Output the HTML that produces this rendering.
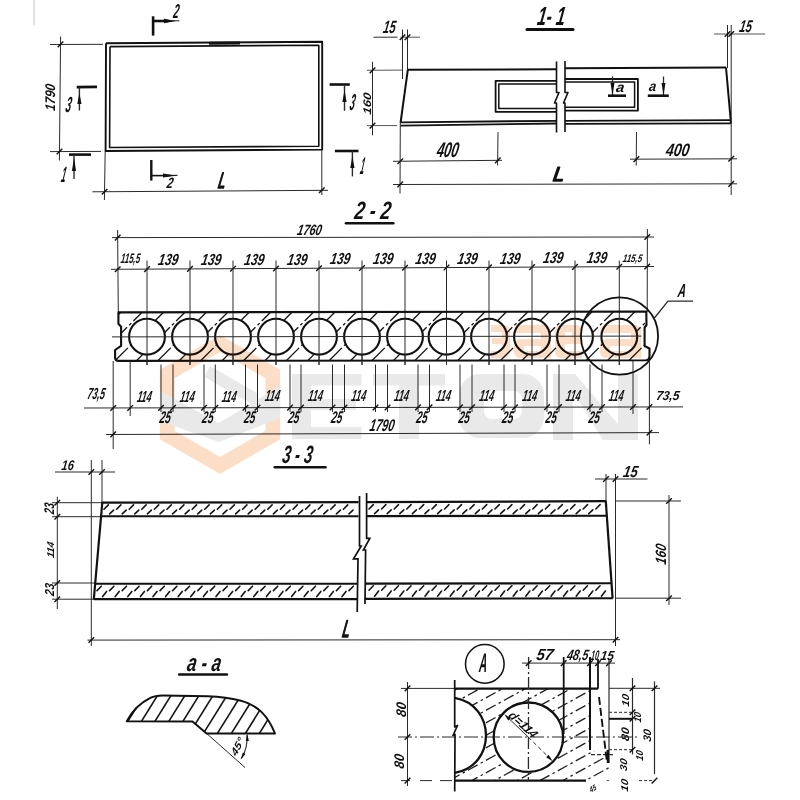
<!DOCTYPE html>
<html><head><meta charset="utf-8"><style>
html,body{margin:0;padding:0;background:#fff;}
body{width:800px;height:800px;overflow:hidden;}
svg{display:block;}
text{font-family:"Liberation Sans",sans-serif;font-style:italic;font-weight:bold;font-size:100px;}
text.r{font-weight:normal;stroke:#111;stroke-width:7px;stroke-linejoin:round;}
</style></head><body>
<svg width="800" height="800" viewBox="0 0 800 800">
<rect width="800" height="800" fill="#fff"/>
<line x1="34" y1="0" x2="34" y2="25" stroke="#c8c8c8" stroke-width="1" stroke-linecap="butt"/>
<polyline points="106,43.2 322.2,41.8 322.2,149.6 105.6,151 106,43.2" fill="none" stroke="#111" stroke-width="1.9" stroke-linejoin="round"/>
<polyline points="110,46.6 318.8,45.2 318.8,146.2 109.6,147.5 110,46.6" fill="none" stroke="#111" stroke-width="1.6" stroke-linejoin="round"/>
<line x1="209" y1="43.3" x2="240" y2="43.1" stroke="#111" stroke-width="3" stroke-linecap="butt"/>
<line x1="153.1" y1="16.3" x2="153.1" y2="35.6" stroke="#111" stroke-width="2.6" stroke-linecap="butt"/>
<line x1="153.1" y1="21" x2="168" y2="21" stroke="#111" stroke-width="2.6" stroke-linecap="butt"/>
<line x1="166" y1="21" x2="179.4" y2="20.8" stroke="#2a2a2a" stroke-width="1.1" stroke-linecap="butt"/>
<polygon points="176,21 164,23.2 164,18.8" fill="#111"/>
<text transform="matrix(0.1 0 -0.03 0.2 172.7 18)" fill="#111">2</text>
<line x1="60.6" y1="36.5" x2="59.4" y2="160.5" stroke="#2a2a2a" stroke-width="1" stroke-linecap="butt"/>
<line x1="50" y1="44.5" x2="103" y2="44.3" stroke="#2a2a2a" stroke-width="1" stroke-linecap="butt"/>
<line x1="50" y1="151.6" x2="101" y2="151.4" stroke="#2a2a2a" stroke-width="1" stroke-linecap="butt"/>
<line x1="57.7" y1="47.2" x2="63.3" y2="41.6" stroke="#111" stroke-width="1.4"/>
<line x1="56.7" y1="154.3" x2="62.3" y2="148.7" stroke="#111" stroke-width="1.4"/>
<text transform="translate(50.5 96.7) rotate(-90) matrix(0.12 0 -0.02 0.14 -14.48 4.76)" fill="#111">1790</text>
<line x1="76.7" y1="87.1" x2="97" y2="86.9" stroke="#111" stroke-width="2.6" stroke-linecap="butt"/>
<line x1="79.4" y1="87.1" x2="79.4" y2="110.5" stroke="#2a2a2a" stroke-width="1.4" stroke-linecap="butt"/>
<polygon points="79.4,93 81.5,104 77.3,104" fill="#111"/>
<text transform="matrix(0.1 0 -0.04 0.22 64.84 111.78)" fill="#111">3</text>
<line x1="69" y1="154.6" x2="91" y2="154.6" stroke="#111" stroke-width="2.6" stroke-linecap="butt"/>
<line x1="74" y1="154.6" x2="74" y2="179" stroke="#2a2a2a" stroke-width="1.4" stroke-linecap="butt"/>
<polygon points="74,158 76.1,171 71.9,171" fill="#111"/>
<text transform="matrix(0.08 0 -0.04 0.22 60.5 182.4)" fill="#111">1</text>
<line x1="151.3" y1="160" x2="151.3" y2="180.6" stroke="#111" stroke-width="2.4" stroke-linecap="butt"/>
<line x1="151.3" y1="175.6" x2="170" y2="175.6" stroke="#111" stroke-width="1.6" stroke-linecap="butt"/>
<line x1="168" y1="175.6" x2="177.5" y2="175.4" stroke="#2a2a2a" stroke-width="1.1" stroke-linecap="butt"/>
<polygon points="176,175.5 163.02,177.6 162.98,173.6" fill="#111"/>
<text transform="matrix(0.11 0 -0.03 0.15 166.23 187.5)" fill="#111">2</text>
<line x1="92.4" y1="191.8" x2="328" y2="190.3" stroke="#2a2a2a" stroke-width="1" stroke-linecap="butt"/>
<line x1="105.2" y1="151" x2="104.4" y2="200" stroke="#2a2a2a" stroke-width="1" stroke-linecap="butt"/>
<line x1="321.8" y1="150" x2="321.8" y2="195" stroke="#2a2a2a" stroke-width="1" stroke-linecap="butt"/>
<line x1="101.8" y1="194.5" x2="107.4" y2="188.9" stroke="#111" stroke-width="1.4"/>
<line x1="319" y1="193.1" x2="324.6" y2="187.5" stroke="#111" stroke-width="1.4"/>
<text transform="matrix(0.13 0 -0.04 0.22 217.5 187.5)" fill="#111" class="r">L</text>
<line x1="329.6" y1="84.5" x2="349.8" y2="84.5" stroke="#111" stroke-width="2.6" stroke-linecap="butt"/>
<line x1="344.5" y1="84.5" x2="344.5" y2="110.8" stroke="#2a2a2a" stroke-width="1.4" stroke-linecap="butt"/>
<polygon points="344.5,90 346.6,102 342.4,102" fill="#111"/>
<text transform="matrix(0.09 0 -0.04 0.23 348.94 109.77)" fill="#111">3</text>
<line x1="334.9" y1="151" x2="358.5" y2="151" stroke="#111" stroke-width="2.6" stroke-linecap="butt"/>
<line x1="352.4" y1="151" x2="352.4" y2="176.4" stroke="#2a2a2a" stroke-width="1.4" stroke-linecap="butt"/>
<polygon points="352.4,156 354.5,168 350.3,168" fill="#111"/>
<text transform="matrix(0.07 0 -0.04 0.24 359.4 173.8)" fill="#111">1</text>
<line x1="372.5" y1="61.8" x2="372.5" y2="135.3" stroke="#2a2a2a" stroke-width="1" stroke-linecap="butt"/>
<line x1="367" y1="70.3" x2="402" y2="70.1" stroke="#555" stroke-width="1" stroke-linecap="butt"/>
<line x1="367" y1="125.6" x2="397" y2="125.6" stroke="#555" stroke-width="1" stroke-linecap="butt"/>
<line x1="369.7" y1="73.2" x2="375.3" y2="67.6" stroke="#111" stroke-width="1.4"/>
<line x1="369.7" y1="128.4" x2="375.3" y2="122.8" stroke="#111" stroke-width="1.4"/>
<text transform="translate(366.8 103.7) rotate(-90) matrix(0.13 0 -0.02 0.11 -11.28 3.84)" fill="#111">160</text>
<line x1="373.5" y1="37.2" x2="397.5" y2="37.2" stroke="#2a2a2a" stroke-width="1" stroke-linecap="butt"/>
<line x1="400.5" y1="37.2" x2="420" y2="37.2" stroke="#555" stroke-width="1" stroke-linecap="butt"/>
<line x1="402.5" y1="29.5" x2="402.5" y2="79" stroke="#2a2a2a" stroke-width="1" stroke-linecap="butt"/>
<line x1="407.5" y1="29.5" x2="407.5" y2="70" stroke="#2a2a2a" stroke-width="1" stroke-linecap="butt"/>
<line x1="399.7" y1="40" x2="405.3" y2="34.4" stroke="#111" stroke-width="1.4"/>
<line x1="404.7" y1="40" x2="410.3" y2="34.4" stroke="#111" stroke-width="1.4"/>
<text transform="matrix(0.11 0 -0.03 0.18 382.53 33.32)" fill="#111">15</text>
<text transform="matrix(0.16 0 -0.04 0.26 536.5 24.8)" fill="#111">1- 1</text>
<line x1="527" y1="29.6" x2="573" y2="29.6" stroke="#111" stroke-width="3" stroke-linecap="round"/>
<line x1="407.5" y1="69.8" x2="556.5" y2="69.2" stroke="#111" stroke-width="2" stroke-linecap="butt"/>
<line x1="565" y1="68.3" x2="726" y2="67.5" stroke="#111" stroke-width="2" stroke-linecap="butt"/>
<line x1="407.8" y1="69.8" x2="400.6" y2="122.5" stroke="#111" stroke-width="2" stroke-linecap="butt"/>
<line x1="726" y1="67.5" x2="731" y2="123.3" stroke="#111" stroke-width="2" stroke-linecap="butt"/>
<line x1="400.6" y1="122.3" x2="556.5" y2="120.8" stroke="#111" stroke-width="1.8" stroke-linecap="butt"/>
<line x1="400.6" y1="125.6" x2="556.5" y2="123.5" stroke="#111" stroke-width="1.8" stroke-linecap="butt"/>
<line x1="565" y1="120.8" x2="731" y2="120.2" stroke="#111" stroke-width="1.8" stroke-linecap="butt"/>
<line x1="565" y1="123.8" x2="731" y2="123.4" stroke="#111" stroke-width="1.8" stroke-linecap="butt"/>
<polyline points="556.5,80.8 495.6,80.8 495.6,111.8 556.5,111.8" fill="none" stroke="#111" stroke-width="1.8" stroke-linejoin="round"/>
<polyline points="556.5,84 498.8,84 498.8,108.6 556.5,108.6" fill="none" stroke="#111" stroke-width="1.5" stroke-linejoin="round"/>
<polyline points="565,79 637.9,79 637.9,110.6 565,110.6" fill="none" stroke="#111" stroke-width="1.8" stroke-linejoin="round"/>
<polyline points="565,82 634.6,82 634.6,107.3 565,107.3" fill="none" stroke="#111" stroke-width="1.5" stroke-linejoin="round"/>
<rect x="557.5" y="60" width="6.5" height="74" fill="#fff"/>
<polyline points="556.5,61.5 556.5,92.5 559,92.5 554.5,103 556.5,103 556.5,132.5" fill="none" stroke="#111" stroke-width="1.6" stroke-linejoin="round"/>
<polyline points="565,61 565,92.5 568,92.5 563.5,103 565,103 565,132" fill="none" stroke="#111" stroke-width="1.6" stroke-linejoin="round"/>
<line x1="612.5" y1="76.5" x2="612.5" y2="95.5" stroke="#2a2a2a" stroke-width="1.3" stroke-linecap="butt"/>
<polygon points="612.5,95 610.5,83 614.5,83" fill="#111"/>
<line x1="608" y1="95.7" x2="626" y2="95.7" stroke="#111" stroke-width="2.6" stroke-linecap="butt"/>
<text transform="matrix(0.15 0 -0.02 0.14 615.52 92.16)" fill="#111">a</text>
<line x1="663.5" y1="76.5" x2="663.5" y2="95.5" stroke="#2a2a2a" stroke-width="1.3" stroke-linecap="butt"/>
<polygon points="663.5,95 661.5,83 665.5,83" fill="#111"/>
<line x1="647.8" y1="95.7" x2="668.8" y2="95.7" stroke="#111" stroke-width="2.6" stroke-linecap="butt"/>
<text transform="matrix(0.13 0 -0.02 0.14 648.52 91.36)" fill="#111">a</text>
<line x1="714" y1="34" x2="765" y2="34" stroke="#555" stroke-width="1" stroke-linecap="butt"/>
<line x1="727.5" y1="25" x2="727.5" y2="68" stroke="#2a2a2a" stroke-width="1" stroke-linecap="butt"/>
<line x1="731.2" y1="25" x2="731.2" y2="195" stroke="#2a2a2a" stroke-width="1" stroke-linecap="butt"/>
<line x1="724.7" y1="36.8" x2="730.3" y2="31.2" stroke="#111" stroke-width="1.4"/>
<line x1="728.4" y1="36.8" x2="734" y2="31.2" stroke="#111" stroke-width="1.4"/>
<text transform="matrix(0.11 0 -0.03 0.17 738.83 32.33)" fill="#111">15</text>
<line x1="393" y1="161.3" x2="502" y2="160.3" stroke="#2a2a2a" stroke-width="1" stroke-linecap="butt"/>
<line x1="498" y1="132" x2="497.6" y2="165.5" stroke="#2a2a2a" stroke-width="1" stroke-linecap="butt"/>
<line x1="397.5" y1="164" x2="403.1" y2="158.4" stroke="#111" stroke-width="1.4"/>
<line x1="495" y1="163.2" x2="500.6" y2="157.6" stroke="#111" stroke-width="1.4"/>
<text transform="matrix(0.13 0 -0.04 0.21 435.89 157.29)" fill="#111">400</text>
<line x1="630" y1="159.2" x2="737" y2="158.8" stroke="#2a2a2a" stroke-width="1" stroke-linecap="butt"/>
<line x1="636.5" y1="132" x2="636.2" y2="165.5" stroke="#2a2a2a" stroke-width="1" stroke-linecap="butt"/>
<line x1="633.6" y1="161.9" x2="639.2" y2="156.3" stroke="#111" stroke-width="1.4"/>
<line x1="728.4" y1="161.6" x2="734" y2="156" stroke="#111" stroke-width="1.4"/>
<text transform="matrix(0.14 0 -0.03 0.18 665.3 156.12)" fill="#111">400</text>
<line x1="393" y1="184.5" x2="737" y2="183.8" stroke="#2a2a2a" stroke-width="1" stroke-linecap="butt"/>
<line x1="400.3" y1="122" x2="400" y2="193.5" stroke="#2a2a2a" stroke-width="1" stroke-linecap="butt"/>
<line x1="397.4" y1="187.2" x2="403" y2="181.6" stroke="#111" stroke-width="1.4"/>
<line x1="728.4" y1="186.7" x2="734" y2="181.1" stroke="#111" stroke-width="1.4"/>
<text transform="matrix(0.2 0 -0.03 0.2 552.5 181)" fill="#111" class="r">L</text>
<text transform="matrix(0.18 0 -0.04 0.25 353.86 219)" fill="#111">2 - 2</text>
<line x1="346" y1="223.2" x2="393.3" y2="223.2" stroke="#111" stroke-width="2.6" stroke-linecap="round"/>
<line x1="112" y1="237.6" x2="654" y2="237" stroke="#2a2a2a" stroke-width="1" stroke-linecap="butt"/>
<line x1="117.6" y1="230" x2="118.3" y2="312" stroke="#2a2a2a" stroke-width="1" stroke-linecap="butt"/>
<line x1="647.4" y1="229" x2="647.2" y2="312" stroke="#2a2a2a" stroke-width="1" stroke-linecap="butt"/>
<line x1="114.9" y1="240.4" x2="120.5" y2="234.8" stroke="#111" stroke-width="1.4"/>
<line x1="644.5" y1="239.8" x2="650.1" y2="234.2" stroke="#111" stroke-width="1.4"/>
<text transform="matrix(0.11 0 -0.03 0.15 296.53 234.65)" fill="#111">1760</text>
<line x1="111" y1="269.3" x2="654" y2="266.5" stroke="#2a2a2a" stroke-width="1" stroke-linecap="butt"/>
<line x1="114.9" y1="272.07" x2="120.5" y2="266.47" stroke="#111" stroke-width="1.4"/>
<line x1="144.2" y1="271.91" x2="149.8" y2="266.31" stroke="#111" stroke-width="1.4"/>
<line x1="187.2" y1="271.69" x2="192.8" y2="266.09" stroke="#111" stroke-width="1.4"/>
<line x1="230.2" y1="271.47" x2="235.8" y2="265.87" stroke="#111" stroke-width="1.4"/>
<line x1="273.2" y1="271.25" x2="278.8" y2="265.65" stroke="#111" stroke-width="1.4"/>
<line x1="316.2" y1="271.03" x2="321.8" y2="265.43" stroke="#111" stroke-width="1.4"/>
<line x1="359.2" y1="270.81" x2="364.8" y2="265.21" stroke="#111" stroke-width="1.4"/>
<line x1="402.2" y1="270.58" x2="407.8" y2="264.98" stroke="#111" stroke-width="1.4"/>
<line x1="443.7" y1="270.37" x2="449.3" y2="264.77" stroke="#111" stroke-width="1.4"/>
<line x1="486.2" y1="270.15" x2="491.8" y2="264.55" stroke="#111" stroke-width="1.4"/>
<line x1="529.2" y1="269.93" x2="534.8" y2="264.33" stroke="#111" stroke-width="1.4"/>
<line x1="572.2" y1="269.71" x2="577.8" y2="264.11" stroke="#111" stroke-width="1.4"/>
<line x1="616.5" y1="269.48" x2="622.1" y2="263.88" stroke="#111" stroke-width="1.4"/>
<line x1="644.4" y1="269.34" x2="650" y2="263.74" stroke="#111" stroke-width="1.4"/>
<line x1="147" y1="260.5" x2="147" y2="365" stroke="#2a2a2a" stroke-width="1" stroke-linecap="butt"/>
<line x1="190" y1="260.5" x2="190" y2="365" stroke="#2a2a2a" stroke-width="1" stroke-linecap="butt"/>
<line x1="233" y1="260.5" x2="233" y2="365" stroke="#2a2a2a" stroke-width="1" stroke-linecap="butt"/>
<line x1="276" y1="260.5" x2="276" y2="365" stroke="#2a2a2a" stroke-width="1" stroke-linecap="butt"/>
<line x1="319" y1="260.5" x2="319" y2="365" stroke="#2a2a2a" stroke-width="1" stroke-linecap="butt"/>
<line x1="362" y1="260.5" x2="362" y2="365" stroke="#2a2a2a" stroke-width="1" stroke-linecap="butt"/>
<line x1="405" y1="260.5" x2="405" y2="365" stroke="#2a2a2a" stroke-width="1" stroke-linecap="butt"/>
<line x1="446.5" y1="260.5" x2="446.5" y2="365" stroke="#2a2a2a" stroke-width="1" stroke-linecap="butt"/>
<line x1="489" y1="260.5" x2="489" y2="365" stroke="#2a2a2a" stroke-width="1" stroke-linecap="butt"/>
<line x1="532" y1="260.5" x2="532" y2="365" stroke="#2a2a2a" stroke-width="1" stroke-linecap="butt"/>
<line x1="575" y1="260.5" x2="575" y2="365" stroke="#2a2a2a" stroke-width="1" stroke-linecap="butt"/>
<line x1="619.3" y1="260.5" x2="619.3" y2="365" stroke="#2a2a2a" stroke-width="1" stroke-linecap="butt"/>
<text transform="matrix(0.08 0 -0.02 0.14 120.36 262.86)" fill="#111">115,5</text>
<text transform="matrix(0.08 0 -0.02 0.11 622.29 261.8)" fill="#111">115,5</text>
<text transform="matrix(0.12 0 -0.03 0.16 157.53 265.34)" fill="#111">139</text>
<text transform="matrix(0.12 0 -0.03 0.16 200.53 265.12)" fill="#111">139</text>
<text transform="matrix(0.12 0 -0.03 0.16 243.53 264.9)" fill="#111">139</text>
<text transform="matrix(0.12 0 -0.03 0.16 286.53 264.68)" fill="#111">139</text>
<text transform="matrix(0.12 0 -0.03 0.16 329.53 264.46)" fill="#111">139</text>
<text transform="matrix(0.12 0 -0.03 0.16 372.53 264.23)" fill="#111">139</text>
<text transform="matrix(0.12 0 -0.03 0.16 414.78 264.02)" fill="#111">139</text>
<text transform="matrix(0.12 0 -0.03 0.16 456.78 263.8)" fill="#111">139</text>
<text transform="matrix(0.12 0 -0.03 0.16 499.53 263.58)" fill="#111">139</text>
<text transform="matrix(0.12 0 -0.03 0.16 542.53 263.36)" fill="#111">139</text>
<text transform="matrix(0.12 0 -0.03 0.16 586.18 263.13)" fill="#111">139</text>
<clipPath id="slabclip"><path d="M118.4,312.4 L118.4,323.8 L121.1,326.8 L121.1,345.9 L115.1,350 L115.1,357.5 Q115.1,360.9 118.5,360.9 L646,360.3 Q649.5,360 649.5,356 L649.5,348.5 L644.6,346 L644.6,327.5 L646.5,325 L646.3,311.5 Z"/></clipPath>
<g clip-path="url(#slabclip)" stroke="#161616" stroke-width="1.35" stroke-dasharray="20 3 3 3"><line x1="71" y1="362" x2="122" y2="311"/><line x1="92.4" y1="362" x2="143.4" y2="311"/><line x1="113.8" y1="362" x2="164.8" y2="311"/><line x1="135.2" y1="362" x2="186.2" y2="311"/><line x1="156.6" y1="362" x2="207.6" y2="311"/><line x1="178" y1="362" x2="229" y2="311"/><line x1="199.4" y1="362" x2="250.4" y2="311"/><line x1="220.8" y1="362" x2="271.8" y2="311"/><line x1="242.2" y1="362" x2="293.2" y2="311"/><line x1="263.6" y1="362" x2="314.6" y2="311"/><line x1="285" y1="362" x2="336" y2="311"/><line x1="306.4" y1="362" x2="357.4" y2="311"/><line x1="327.8" y1="362" x2="378.8" y2="311"/><line x1="349.2" y1="362" x2="400.2" y2="311"/><line x1="370.6" y1="362" x2="421.6" y2="311"/><line x1="392" y1="362" x2="443" y2="311"/><line x1="413.4" y1="362" x2="464.4" y2="311"/><line x1="434.8" y1="362" x2="485.8" y2="311"/><line x1="456.2" y1="362" x2="507.2" y2="311"/><line x1="477.6" y1="362" x2="528.6" y2="311"/><line x1="499" y1="362" x2="550" y2="311"/><line x1="520.4" y1="362" x2="571.4" y2="311"/><line x1="541.8" y1="362" x2="592.8" y2="311"/><line x1="563.2" y1="362" x2="614.2" y2="311"/><line x1="584.6" y1="362" x2="635.6" y2="311"/><line x1="606" y1="362" x2="657" y2="311"/><line x1="627.4" y1="362" x2="678.4" y2="311"/><line x1="648.8" y1="362" x2="699.8" y2="311"/></g>
<path d="M118.4,312.4 L118.4,323.8 L121.1,326.8 L121.1,345.9 L115.1,350 L115.1,357.5 Q115.1,360.9 118.5,360.9 L646,360.3 Q649.5,360 649.5,356 L649.5,348.5 L644.6,346 L644.6,327.5 L646.5,325 L646.3,311.5 Z" fill="none" stroke="#111" stroke-width="2.1" stroke-linejoin="round" />
<circle cx="147" cy="336.7" r="17.9" fill="#fff" stroke="#111" stroke-width="2.1"/>
<circle cx="190" cy="336.7" r="17.9" fill="#fff" stroke="#111" stroke-width="2.1"/>
<circle cx="233" cy="336.7" r="17.9" fill="#fff" stroke="#111" stroke-width="2.1"/>
<circle cx="276" cy="336.7" r="17.9" fill="#fff" stroke="#111" stroke-width="2.1"/>
<circle cx="319" cy="336.7" r="17.9" fill="#fff" stroke="#111" stroke-width="2.1"/>
<circle cx="362" cy="336.7" r="17.9" fill="#fff" stroke="#111" stroke-width="2.1"/>
<circle cx="405" cy="336.7" r="17.9" fill="#fff" stroke="#111" stroke-width="2.1"/>
<circle cx="446.5" cy="336.7" r="17.9" fill="#fff" stroke="#111" stroke-width="2.1"/>
<circle cx="489" cy="336.7" r="17.9" fill="#fff" stroke="#111" stroke-width="2.1"/>
<circle cx="532" cy="336.7" r="17.9" fill="#fff" stroke="#111" stroke-width="2.1"/>
<circle cx="575" cy="336.7" r="17.9" fill="#fff" stroke="#111" stroke-width="2.1"/>
<circle cx="619.3" cy="336.7" r="17.9" fill="#fff" stroke="#111" stroke-width="2.1"/>
<line x1="112" y1="336.9" x2="641.5" y2="336.1" stroke="#2a2a2a" stroke-width="1" stroke-linecap="butt"/>
<line x1="147" y1="318" x2="147" y2="365" stroke="#2a2a2a" stroke-width="1" stroke-linecap="butt"/>
<line x1="190" y1="318" x2="190" y2="365" stroke="#2a2a2a" stroke-width="1" stroke-linecap="butt"/>
<line x1="233" y1="318" x2="233" y2="365" stroke="#2a2a2a" stroke-width="1" stroke-linecap="butt"/>
<line x1="276" y1="318" x2="276" y2="365" stroke="#2a2a2a" stroke-width="1" stroke-linecap="butt"/>
<line x1="319" y1="318" x2="319" y2="365" stroke="#2a2a2a" stroke-width="1" stroke-linecap="butt"/>
<line x1="362" y1="318" x2="362" y2="365" stroke="#2a2a2a" stroke-width="1" stroke-linecap="butt"/>
<line x1="405" y1="318" x2="405" y2="365" stroke="#2a2a2a" stroke-width="1" stroke-linecap="butt"/>
<line x1="446.5" y1="318" x2="446.5" y2="365" stroke="#2a2a2a" stroke-width="1" stroke-linecap="butt"/>
<line x1="489" y1="318" x2="489" y2="365" stroke="#2a2a2a" stroke-width="1" stroke-linecap="butt"/>
<line x1="532" y1="318" x2="532" y2="365" stroke="#2a2a2a" stroke-width="1" stroke-linecap="butt"/>
<line x1="575" y1="318" x2="575" y2="365" stroke="#2a2a2a" stroke-width="1" stroke-linecap="butt"/>
<line x1="619.3" y1="318" x2="619.3" y2="365" stroke="#2a2a2a" stroke-width="1" stroke-linecap="butt"/>
<circle cx="619.5" cy="336" r="38.6" fill="none" stroke="#111" stroke-width="1.8"/>
<polyline points="654,318.5 668,301.2 693,301.2" fill="none" stroke="#2a2a2a" stroke-width="1.3" stroke-linejoin="round"/>
<text transform="matrix(0.11 0 -0.03 0.19 677.33 297)" fill="#111">A</text>
<line x1="84" y1="408" x2="683" y2="406.9" stroke="#2a2a2a" stroke-width="1" stroke-linecap="butt"/>
<line x1="113.2" y1="361" x2="113.2" y2="449" stroke="#2a2a2a" stroke-width="1" stroke-linecap="butt"/>
<line x1="130.2" y1="361" x2="130.2" y2="416" stroke="#2a2a2a" stroke-width="1" stroke-linecap="butt"/>
<line x1="161" y1="364.5" x2="161" y2="412" stroke="#2a2a2a" stroke-width="1" stroke-linecap="butt"/>
<line x1="173" y1="364.5" x2="173" y2="412" stroke="#2a2a2a" stroke-width="1" stroke-linecap="butt"/>
<line x1="204" y1="364.5" x2="204" y2="412" stroke="#2a2a2a" stroke-width="1" stroke-linecap="butt"/>
<line x1="215.3" y1="364.5" x2="215.3" y2="412" stroke="#2a2a2a" stroke-width="1" stroke-linecap="butt"/>
<line x1="245.5" y1="364.5" x2="245.5" y2="412" stroke="#2a2a2a" stroke-width="1" stroke-linecap="butt"/>
<line x1="257.5" y1="364.5" x2="257.5" y2="412" stroke="#2a2a2a" stroke-width="1" stroke-linecap="butt"/>
<line x1="290" y1="364.5" x2="290" y2="412" stroke="#2a2a2a" stroke-width="1" stroke-linecap="butt"/>
<line x1="301" y1="364.5" x2="301" y2="412" stroke="#2a2a2a" stroke-width="1" stroke-linecap="butt"/>
<line x1="332.5" y1="364.5" x2="332.5" y2="412" stroke="#2a2a2a" stroke-width="1" stroke-linecap="butt"/>
<line x1="344.5" y1="364.5" x2="344.5" y2="412" stroke="#2a2a2a" stroke-width="1" stroke-linecap="butt"/>
<line x1="375.5" y1="364.5" x2="375.5" y2="412" stroke="#2a2a2a" stroke-width="1" stroke-linecap="butt"/>
<line x1="387.5" y1="364.5" x2="387.5" y2="412" stroke="#2a2a2a" stroke-width="1" stroke-linecap="butt"/>
<line x1="418" y1="364.5" x2="418" y2="412" stroke="#2a2a2a" stroke-width="1" stroke-linecap="butt"/>
<line x1="429.5" y1="364.5" x2="429.5" y2="412" stroke="#2a2a2a" stroke-width="1" stroke-linecap="butt"/>
<line x1="460" y1="364.5" x2="460" y2="412" stroke="#2a2a2a" stroke-width="1" stroke-linecap="butt"/>
<line x1="472" y1="364.5" x2="472" y2="412" stroke="#2a2a2a" stroke-width="1" stroke-linecap="butt"/>
<line x1="504" y1="364.5" x2="504" y2="412" stroke="#2a2a2a" stroke-width="1" stroke-linecap="butt"/>
<line x1="515" y1="364.5" x2="515" y2="412" stroke="#2a2a2a" stroke-width="1" stroke-linecap="butt"/>
<line x1="547" y1="364.5" x2="547" y2="412" stroke="#2a2a2a" stroke-width="1" stroke-linecap="butt"/>
<line x1="559" y1="364.5" x2="559" y2="412" stroke="#2a2a2a" stroke-width="1" stroke-linecap="butt"/>
<line x1="590" y1="364.5" x2="590" y2="412" stroke="#2a2a2a" stroke-width="1" stroke-linecap="butt"/>
<line x1="602" y1="364.5" x2="602" y2="412" stroke="#2a2a2a" stroke-width="1" stroke-linecap="butt"/>
<line x1="633" y1="361" x2="633" y2="414" stroke="#2a2a2a" stroke-width="1" stroke-linecap="butt"/>
<line x1="649.4" y1="361" x2="649.4" y2="444.3" stroke="#2a2a2a" stroke-width="1" stroke-linecap="butt"/>
<line x1="110.4" y1="410.75" x2="116" y2="405.15" stroke="#111" stroke-width="1.4"/>
<line x1="127.4" y1="410.72" x2="133" y2="405.12" stroke="#111" stroke-width="1.4"/>
<line x1="158.2" y1="410.66" x2="163.8" y2="405.06" stroke="#111" stroke-width="1.4"/>
<line x1="170.2" y1="410.64" x2="175.8" y2="405.04" stroke="#111" stroke-width="1.4"/>
<line x1="201.2" y1="410.58" x2="206.8" y2="404.98" stroke="#111" stroke-width="1.4"/>
<line x1="212.5" y1="410.56" x2="218.1" y2="404.96" stroke="#111" stroke-width="1.4"/>
<line x1="242.7" y1="410.5" x2="248.3" y2="404.9" stroke="#111" stroke-width="1.4"/>
<line x1="254.7" y1="410.48" x2="260.3" y2="404.88" stroke="#111" stroke-width="1.4"/>
<line x1="287.2" y1="410.42" x2="292.8" y2="404.82" stroke="#111" stroke-width="1.4"/>
<line x1="298.2" y1="410.4" x2="303.8" y2="404.8" stroke="#111" stroke-width="1.4"/>
<line x1="329.7" y1="410.34" x2="335.3" y2="404.74" stroke="#111" stroke-width="1.4"/>
<line x1="341.7" y1="410.32" x2="347.3" y2="404.72" stroke="#111" stroke-width="1.4"/>
<line x1="372.7" y1="410.26" x2="378.3" y2="404.66" stroke="#111" stroke-width="1.4"/>
<line x1="384.7" y1="410.24" x2="390.3" y2="404.64" stroke="#111" stroke-width="1.4"/>
<line x1="415.2" y1="410.19" x2="420.8" y2="404.59" stroke="#111" stroke-width="1.4"/>
<line x1="426.7" y1="410.17" x2="432.3" y2="404.57" stroke="#111" stroke-width="1.4"/>
<line x1="457.2" y1="410.11" x2="462.8" y2="404.51" stroke="#111" stroke-width="1.4"/>
<line x1="469.2" y1="410.09" x2="474.8" y2="404.49" stroke="#111" stroke-width="1.4"/>
<line x1="501.2" y1="410.03" x2="506.8" y2="404.43" stroke="#111" stroke-width="1.4"/>
<line x1="512.2" y1="410.01" x2="517.8" y2="404.41" stroke="#111" stroke-width="1.4"/>
<line x1="544.2" y1="409.95" x2="549.8" y2="404.35" stroke="#111" stroke-width="1.4"/>
<line x1="556.2" y1="409.93" x2="561.8" y2="404.33" stroke="#111" stroke-width="1.4"/>
<line x1="587.2" y1="409.87" x2="592.8" y2="404.27" stroke="#111" stroke-width="1.4"/>
<line x1="599.2" y1="409.85" x2="604.8" y2="404.25" stroke="#111" stroke-width="1.4"/>
<line x1="630.2" y1="409.79" x2="635.8" y2="404.19" stroke="#111" stroke-width="1.4"/>
<line x1="646.6" y1="409.76" x2="652.2" y2="404.16" stroke="#111" stroke-width="1.4"/>
<text transform="matrix(0.09 0 -0.03 0.16 86.72 399.45)" fill="#111">73,5</text>
<text transform="matrix(0.12 0 -0.02 0.13 655.63 400.36)" fill="#111">73,5</text>
<text transform="matrix(0.09 0 -0.03 0.16 136.4 401.69)" fill="#111">114</text>
<text transform="matrix(0.09 0 -0.03 0.16 179.3 401.61)" fill="#111">114</text>
<text transform="matrix(0.09 0 -0.03 0.16 221.2 401.53)" fill="#111">114</text>
<text transform="matrix(0.09 0 -0.03 0.16 264.55 401.45)" fill="#111">114</text>
<text transform="matrix(0.09 0 -0.03 0.16 307.55 401.37)" fill="#111">114</text>
<text transform="matrix(0.09 0 -0.03 0.16 350.8 401.3)" fill="#111">114</text>
<text transform="matrix(0.09 0 -0.03 0.16 393.55 401.22)" fill="#111">114</text>
<text transform="matrix(0.09 0 -0.03 0.16 435.55 401.14)" fill="#111">114</text>
<text transform="matrix(0.09 0 -0.03 0.16 478.8 401.06)" fill="#111">114</text>
<text transform="matrix(0.09 0 -0.03 0.16 521.8 400.98)" fill="#111">114</text>
<text transform="matrix(0.09 0 -0.03 0.16 565.3 400.9)" fill="#111">114</text>
<text transform="matrix(0.09 0 -0.03 0.16 608.3 400.82)" fill="#111">114</text>
<text transform="matrix(0.1 0 -0.03 0.17 158.92 422.83)" fill="#111">25</text>
<text transform="matrix(0.1 0 -0.03 0.17 201.57 422.83)" fill="#111">25</text>
<text transform="matrix(0.1 0 -0.03 0.17 243.42 422.83)" fill="#111">25</text>
<text transform="matrix(0.1 0 -0.03 0.17 287.42 422.83)" fill="#111">25</text>
<text transform="matrix(0.1 0 -0.03 0.17 330.42 422.83)" fill="#111">25</text>
<text transform="matrix(0.1 0 -0.03 0.17 415.67 422.83)" fill="#111">25</text>
<text transform="matrix(0.1 0 -0.03 0.17 457.92 422.83)" fill="#111">25</text>
<text transform="matrix(0.1 0 -0.03 0.17 501.42 422.83)" fill="#111">25</text>
<text transform="matrix(0.1 0 -0.03 0.17 544.92 422.83)" fill="#111">25</text>
<text transform="matrix(0.1 0 -0.03 0.17 587.92 422.83)" fill="#111">25</text>
<line x1="106" y1="434.5" x2="659" y2="432.6" stroke="#2a2a2a" stroke-width="1" stroke-linecap="butt"/>
<line x1="110.4" y1="437.2" x2="116" y2="431.6" stroke="#111" stroke-width="1.4"/>
<line x1="646.6" y1="435.5" x2="652.2" y2="429.9" stroke="#111" stroke-width="1.4"/>
<text transform="matrix(0.11 0 -0.03 0.17 369.03 430.83)" fill="#111">1790</text>
<text transform="matrix(0.15 0 -0.04 0.25 281.54 463.25)" fill="#111">3 - 3</text>
<line x1="274.8" y1="467.2" x2="325.5" y2="467.2" stroke="#111" stroke-width="2.6" stroke-linecap="round"/>
<line x1="55" y1="472" x2="115" y2="472" stroke="#2a2a2a" stroke-width="1" stroke-linecap="butt"/>
<line x1="91.3" y1="460" x2="91.3" y2="646" stroke="#2a2a2a" stroke-width="1" stroke-linecap="butt"/>
<line x1="102" y1="460" x2="102" y2="502.5" stroke="#2a2a2a" stroke-width="1" stroke-linecap="butt"/>
<line x1="88.5" y1="474.8" x2="94.1" y2="469.2" stroke="#111" stroke-width="1.4"/>
<line x1="99.2" y1="474.8" x2="104.8" y2="469.2" stroke="#111" stroke-width="1.4"/>
<text transform="matrix(0.11 0 -0.02 0.14 61.02 469.86)" fill="#111">16</text>
<line x1="57.3" y1="496.7" x2="57.3" y2="609" stroke="#2a2a2a" stroke-width="1" stroke-linecap="butt"/>
<line x1="52" y1="502.7" x2="102" y2="502.7" stroke="#2a2a2a" stroke-width="1" stroke-linecap="butt"/>
<line x1="54.5" y1="505.5" x2="60.1" y2="499.9" stroke="#111" stroke-width="1.4"/>
<line x1="52" y1="516.7" x2="101" y2="516.7" stroke="#2a2a2a" stroke-width="1" stroke-linecap="butt"/>
<line x1="54.5" y1="519.5" x2="60.1" y2="513.9" stroke="#111" stroke-width="1.4"/>
<line x1="52" y1="583" x2="95" y2="583" stroke="#2a2a2a" stroke-width="1" stroke-linecap="butt"/>
<line x1="54.5" y1="585.8" x2="60.1" y2="580.2" stroke="#111" stroke-width="1.4"/>
<line x1="52" y1="599.2" x2="94" y2="599.2" stroke="#2a2a2a" stroke-width="1" stroke-linecap="butt"/>
<line x1="54.5" y1="602" x2="60.1" y2="596.4" stroke="#111" stroke-width="1.4"/>
<text transform="translate(49.6 508) rotate(-90) matrix(0.1 0 -0.02 0.14 -6.52 4.76)" fill="#111">23</text>
<text transform="translate(50.3 550) rotate(-90) matrix(0.1 0 -0.02 0.1 -8.25 3.35)" fill="#111">114</text>
<text transform="translate(49.2 589.7) rotate(-90) matrix(0.11 0 -0.02 0.13 -6.47 4.37)" fill="#111">23</text>
<line x1="595" y1="479" x2="647.5" y2="479" stroke="#2a2a2a" stroke-width="1" stroke-linecap="butt"/>
<line x1="606" y1="474" x2="606" y2="501" stroke="#2a2a2a" stroke-width="1" stroke-linecap="butt"/>
<line x1="615.5" y1="474" x2="615.5" y2="646" stroke="#2a2a2a" stroke-width="1" stroke-linecap="butt"/>
<line x1="603.2" y1="481.8" x2="608.8" y2="476.2" stroke="#111" stroke-width="1.4"/>
<line x1="612.7" y1="481.8" x2="618.3" y2="476.2" stroke="#111" stroke-width="1.4"/>
<text transform="matrix(0.13 0 -0.03 0.16 622.53 477.34)" fill="#111">15</text>
<line x1="669" y1="495" x2="669" y2="605" stroke="#2a2a2a" stroke-width="1" stroke-linecap="butt"/>
<line x1="615.5" y1="501" x2="681" y2="501" stroke="#2a2a2a" stroke-width="1" stroke-linecap="butt"/>
<line x1="615.5" y1="598.2" x2="681" y2="598.2" stroke="#2a2a2a" stroke-width="1" stroke-linecap="butt"/>
<line x1="666.2" y1="503.8" x2="671.8" y2="498.2" stroke="#111" stroke-width="1.4"/>
<line x1="666.2" y1="601" x2="671.8" y2="595.4" stroke="#111" stroke-width="1.4"/>
<text transform="translate(660.5 553.7) rotate(-90) matrix(0.12 0 -0.03 0.15 -11.22 5.35)" fill="#111">160</text>
<g stroke="#151515" stroke-width="1.6" stroke-linecap="round"><line x1="104" y1="509.3" x2="108.3" y2="504.9"/><line x1="109.6" y1="513.9" x2="113.6" y2="510.1"/><line x1="116.6" y1="509.3" x2="120.9" y2="504.9"/><line x1="122.2" y1="513.9" x2="126.2" y2="510.1"/><line x1="129.2" y1="509.3" x2="133.5" y2="504.9"/><line x1="134.8" y1="513.9" x2="138.8" y2="510.1"/><line x1="141.8" y1="509.3" x2="146.1" y2="504.9"/><line x1="147.4" y1="513.9" x2="151.4" y2="510.1"/><line x1="154.4" y1="509.3" x2="158.7" y2="504.9"/><line x1="160" y1="513.9" x2="164" y2="510.1"/><line x1="167" y1="509.3" x2="171.3" y2="504.9"/><line x1="172.6" y1="513.9" x2="176.6" y2="510.1"/><line x1="179.6" y1="509.3" x2="183.9" y2="504.9"/><line x1="185.2" y1="513.9" x2="189.2" y2="510.1"/><line x1="192.2" y1="509.3" x2="196.5" y2="504.9"/><line x1="197.8" y1="513.9" x2="201.8" y2="510.1"/><line x1="204.8" y1="509.3" x2="209.1" y2="504.9"/><line x1="210.4" y1="513.9" x2="214.4" y2="510.1"/><line x1="217.4" y1="509.3" x2="221.7" y2="504.9"/><line x1="223" y1="513.9" x2="227" y2="510.1"/><line x1="230" y1="509.3" x2="234.3" y2="504.9"/><line x1="235.6" y1="513.9" x2="239.6" y2="510.1"/><line x1="242.6" y1="509.3" x2="246.9" y2="504.9"/><line x1="248.2" y1="513.9" x2="252.2" y2="510.1"/><line x1="255.2" y1="509.3" x2="259.5" y2="504.9"/><line x1="260.8" y1="513.9" x2="264.8" y2="510.1"/><line x1="267.8" y1="509.3" x2="272.1" y2="504.9"/><line x1="273.4" y1="513.9" x2="277.4" y2="510.1"/><line x1="280.4" y1="509.3" x2="284.7" y2="504.9"/><line x1="286" y1="513.9" x2="290" y2="510.1"/><line x1="293" y1="509.3" x2="297.3" y2="504.9"/><line x1="298.6" y1="513.9" x2="302.6" y2="510.1"/><line x1="305.6" y1="509.3" x2="309.9" y2="504.9"/><line x1="311.2" y1="513.9" x2="315.2" y2="510.1"/><line x1="318.2" y1="509.3" x2="322.5" y2="504.9"/><line x1="323.8" y1="513.9" x2="327.8" y2="510.1"/><line x1="330.8" y1="509.3" x2="335.1" y2="504.9"/><line x1="336.4" y1="513.9" x2="340.4" y2="510.1"/><line x1="343.4" y1="509.3" x2="347.7" y2="504.9"/><line x1="349" y1="513.9" x2="353" y2="510.1"/></g>
<g stroke="#151515" stroke-width="1.6" stroke-linecap="round"><line x1="369" y1="509" x2="373.3" y2="504.6"/><line x1="374.6" y1="513.6" x2="378.6" y2="509.8"/><line x1="381.6" y1="509" x2="385.9" y2="504.6"/><line x1="387.2" y1="513.6" x2="391.2" y2="509.8"/><line x1="394.2" y1="509" x2="398.5" y2="504.6"/><line x1="399.8" y1="513.6" x2="403.8" y2="509.8"/><line x1="406.8" y1="509" x2="411.1" y2="504.6"/><line x1="412.4" y1="513.6" x2="416.4" y2="509.8"/><line x1="419.4" y1="509" x2="423.7" y2="504.6"/><line x1="425" y1="513.6" x2="429" y2="509.8"/><line x1="432" y1="509" x2="436.3" y2="504.6"/><line x1="437.6" y1="513.6" x2="441.6" y2="509.8"/><line x1="444.6" y1="509" x2="448.9" y2="504.6"/><line x1="450.2" y1="513.6" x2="454.2" y2="509.8"/><line x1="457.2" y1="509" x2="461.5" y2="504.6"/><line x1="462.8" y1="513.6" x2="466.8" y2="509.8"/><line x1="469.8" y1="509" x2="474.1" y2="504.6"/><line x1="475.4" y1="513.6" x2="479.4" y2="509.8"/><line x1="482.4" y1="509" x2="486.7" y2="504.6"/><line x1="488" y1="513.6" x2="492" y2="509.8"/><line x1="495" y1="509" x2="499.3" y2="504.6"/><line x1="500.6" y1="513.6" x2="504.6" y2="509.8"/><line x1="507.6" y1="509" x2="511.9" y2="504.6"/><line x1="513.2" y1="513.6" x2="517.2" y2="509.8"/><line x1="520.2" y1="509" x2="524.5" y2="504.6"/><line x1="525.8" y1="513.6" x2="529.8" y2="509.8"/><line x1="532.8" y1="509" x2="537.1" y2="504.6"/><line x1="538.4" y1="513.6" x2="542.4" y2="509.8"/><line x1="545.4" y1="509" x2="549.7" y2="504.6"/><line x1="551" y1="513.6" x2="555" y2="509.8"/><line x1="558" y1="509" x2="562.3" y2="504.6"/><line x1="563.6" y1="513.6" x2="567.6" y2="509.8"/><line x1="570.6" y1="509" x2="574.9" y2="504.6"/><line x1="576.2" y1="513.6" x2="580.2" y2="509.8"/><line x1="583.2" y1="509" x2="587.5" y2="504.6"/><line x1="588.8" y1="513.6" x2="592.8" y2="509.8"/><line x1="595.8" y1="509" x2="600.1" y2="504.6"/></g>
<g stroke="#151515" stroke-width="1.6" stroke-linecap="round"><line x1="97" y1="590.6" x2="101.3" y2="586.2"/><line x1="102.6" y1="596.6" x2="106.6" y2="591.4"/><line x1="109.6" y1="590.6" x2="113.9" y2="586.2"/><line x1="115.2" y1="596.6" x2="119.2" y2="591.4"/><line x1="122.2" y1="590.6" x2="126.5" y2="586.2"/><line x1="127.8" y1="596.6" x2="131.8" y2="591.4"/><line x1="134.8" y1="590.6" x2="139.1" y2="586.2"/><line x1="140.4" y1="596.6" x2="144.4" y2="591.4"/><line x1="147.4" y1="590.6" x2="151.7" y2="586.2"/><line x1="153" y1="596.6" x2="157" y2="591.4"/><line x1="160" y1="590.6" x2="164.3" y2="586.2"/><line x1="165.6" y1="596.6" x2="169.6" y2="591.4"/><line x1="172.6" y1="590.6" x2="176.9" y2="586.2"/><line x1="178.2" y1="596.6" x2="182.2" y2="591.4"/><line x1="185.2" y1="590.6" x2="189.5" y2="586.2"/><line x1="190.8" y1="596.6" x2="194.8" y2="591.4"/><line x1="197.8" y1="590.6" x2="202.1" y2="586.2"/><line x1="203.4" y1="596.6" x2="207.4" y2="591.4"/><line x1="210.4" y1="590.6" x2="214.7" y2="586.2"/><line x1="216" y1="596.6" x2="220" y2="591.4"/><line x1="223" y1="590.6" x2="227.3" y2="586.2"/><line x1="228.6" y1="596.6" x2="232.6" y2="591.4"/><line x1="235.6" y1="590.6" x2="239.9" y2="586.2"/><line x1="241.2" y1="596.6" x2="245.2" y2="591.4"/><line x1="248.2" y1="590.6" x2="252.5" y2="586.2"/><line x1="253.8" y1="596.6" x2="257.8" y2="591.4"/><line x1="260.8" y1="590.6" x2="265.1" y2="586.2"/><line x1="266.4" y1="596.6" x2="270.4" y2="591.4"/><line x1="273.4" y1="590.6" x2="277.7" y2="586.2"/><line x1="279" y1="596.6" x2="283" y2="591.4"/><line x1="286" y1="590.6" x2="290.3" y2="586.2"/><line x1="291.6" y1="596.6" x2="295.6" y2="591.4"/><line x1="298.6" y1="590.6" x2="302.9" y2="586.2"/><line x1="304.2" y1="596.6" x2="308.2" y2="591.4"/><line x1="311.2" y1="590.6" x2="315.5" y2="586.2"/><line x1="316.8" y1="596.6" x2="320.8" y2="591.4"/><line x1="323.8" y1="590.6" x2="328.1" y2="586.2"/><line x1="329.4" y1="596.6" x2="333.4" y2="591.4"/><line x1="336.4" y1="590.6" x2="340.7" y2="586.2"/><line x1="342" y1="596.6" x2="346" y2="591.4"/><line x1="349" y1="590.6" x2="353.3" y2="586.2"/></g>
<g stroke="#151515" stroke-width="1.6" stroke-linecap="round"><line x1="369" y1="590.2" x2="373.3" y2="585.8"/><line x1="374.6" y1="596.2" x2="378.6" y2="591"/><line x1="381.6" y1="590.2" x2="385.9" y2="585.8"/><line x1="387.2" y1="596.2" x2="391.2" y2="591"/><line x1="394.2" y1="590.2" x2="398.5" y2="585.8"/><line x1="399.8" y1="596.2" x2="403.8" y2="591"/><line x1="406.8" y1="590.2" x2="411.1" y2="585.8"/><line x1="412.4" y1="596.2" x2="416.4" y2="591"/><line x1="419.4" y1="590.2" x2="423.7" y2="585.8"/><line x1="425" y1="596.2" x2="429" y2="591"/><line x1="432" y1="590.2" x2="436.3" y2="585.8"/><line x1="437.6" y1="596.2" x2="441.6" y2="591"/><line x1="444.6" y1="590.2" x2="448.9" y2="585.8"/><line x1="450.2" y1="596.2" x2="454.2" y2="591"/><line x1="457.2" y1="590.2" x2="461.5" y2="585.8"/><line x1="462.8" y1="596.2" x2="466.8" y2="591"/><line x1="469.8" y1="590.2" x2="474.1" y2="585.8"/><line x1="475.4" y1="596.2" x2="479.4" y2="591"/><line x1="482.4" y1="590.2" x2="486.7" y2="585.8"/><line x1="488" y1="596.2" x2="492" y2="591"/><line x1="495" y1="590.2" x2="499.3" y2="585.8"/><line x1="500.6" y1="596.2" x2="504.6" y2="591"/><line x1="507.6" y1="590.2" x2="511.9" y2="585.8"/><line x1="513.2" y1="596.2" x2="517.2" y2="591"/><line x1="520.2" y1="590.2" x2="524.5" y2="585.8"/><line x1="525.8" y1="596.2" x2="529.8" y2="591"/><line x1="532.8" y1="590.2" x2="537.1" y2="585.8"/><line x1="538.4" y1="596.2" x2="542.4" y2="591"/><line x1="545.4" y1="590.2" x2="549.7" y2="585.8"/><line x1="551" y1="596.2" x2="555" y2="591"/><line x1="558" y1="590.2" x2="562.3" y2="585.8"/><line x1="563.6" y1="596.2" x2="567.6" y2="591"/><line x1="570.6" y1="590.2" x2="574.9" y2="585.8"/><line x1="576.2" y1="596.2" x2="580.2" y2="591"/><line x1="583.2" y1="590.2" x2="587.5" y2="585.8"/><line x1="588.8" y1="596.2" x2="592.8" y2="591"/><line x1="595.8" y1="590.2" x2="600.1" y2="585.8"/><line x1="601.4" y1="596.2" x2="605.4" y2="591"/></g>
<line x1="101.5" y1="502.6" x2="358.5" y2="502.2" stroke="#111" stroke-width="2.2" stroke-linecap="butt"/>
<line x1="101" y1="516.3" x2="358.5" y2="516.2" stroke="#111" stroke-width="2.1" stroke-linecap="butt"/>
<line x1="95" y1="583.8" x2="358" y2="583.8" stroke="#111" stroke-width="2.1" stroke-linecap="butt"/>
<line x1="93.8" y1="599.1" x2="358" y2="599.1" stroke="#111" stroke-width="2.1" stroke-linecap="butt"/>
<line x1="366" y1="502.2" x2="606" y2="501.2" stroke="#111" stroke-width="2.2" stroke-linecap="butt"/>
<line x1="366" y1="516.1" x2="606.5" y2="515.8" stroke="#111" stroke-width="2.1" stroke-linecap="butt"/>
<line x1="365" y1="583.6" x2="612" y2="583.2" stroke="#111" stroke-width="2.1" stroke-linecap="butt"/>
<line x1="365" y1="598.9" x2="612.8" y2="598.3" stroke="#111" stroke-width="2.1" stroke-linecap="butt"/>
<line x1="102.3" y1="502.4" x2="93.8" y2="599.3" stroke="#111" stroke-width="2.2" stroke-linecap="butt"/>
<line x1="605.8" y1="501.2" x2="612.6" y2="598.4" stroke="#111" stroke-width="2.2" stroke-linecap="butt"/>
<polyline points="359.5,496 359.5,546 361.2,546 353.5,558.8 358,558.8 357.2,612" fill="none" stroke="#111" stroke-width="1.7" stroke-linejoin="miter"/>
<polyline points="366.6,493 366.6,538.4 369.8,538.4 363.4,550 365.6,550 365,604" fill="none" stroke="#111" stroke-width="1.7" stroke-linejoin="miter"/>
<line x1="87.5" y1="640.1" x2="620" y2="639.7" stroke="#2a2a2a" stroke-width="1" stroke-linecap="butt"/>
<line x1="88.5" y1="642.8" x2="94.1" y2="637.2" stroke="#111" stroke-width="1.4"/>
<line x1="612.7" y1="642.5" x2="618.3" y2="636.9" stroke="#111" stroke-width="1.4"/>
<text transform="matrix(0.13 0 -0.04 0.24 341.8 637.1)" fill="#111" class="r">L</text>
<text transform="matrix(0.17 0 -0.04 0.24 186.24 670.76)" fill="#111">a - a</text>
<line x1="179.2" y1="674.5" x2="226.9" y2="674.5" stroke="#111" stroke-width="2.6" stroke-linecap="round"/>
<clipPath id="aaclip"><path d="M126.8,721.3 C131,713 138,704 150.4,697.9 C154,696 158,695.4 162.7,695.4 L207.7,696.3 C222,697 232,698.5 240,700.5 C258,705 268,716 275,733.5 L206.6,733.4 L192.5,721.4 Z"/></clipPath>
<g clip-path="url(#aaclip)" stroke="#151515" stroke-width="1.6"><line x1="104.16" y1="737" x2="132.19" y2="692"/><line x1="118.06" y1="737" x2="146.09" y2="692"/><line x1="131.66" y1="737" x2="159.69" y2="692"/><line x1="145.16" y1="737" x2="173.19" y2="692"/><line x1="159.06" y1="737" x2="187.09" y2="692"/><line x1="173.16" y1="737" x2="201.19" y2="692"/><line x1="187.16" y1="737" x2="215.19" y2="692"/><line x1="201.16" y1="737" x2="229.19" y2="692"/><line x1="215.16" y1="737" x2="243.19" y2="692"/><line x1="229.16" y1="737" x2="257.19" y2="692"/><line x1="243.16" y1="737" x2="271.19" y2="692"/><line x1="257.15" y1="737" x2="285.19" y2="692"/></g>
<path d="M126.8,721.3 C131,713 138,704 150.4,697.9 C154,696 158,695.4 162.7,695.4 L207.7,696.3 C222,697 232,698.5 240,700.5 C258,705 268,716 275,733.5 L206.6,733.4 L192.5,721.4 Z" fill="none" stroke="#111" stroke-width="2" stroke-linejoin="round" />
<line x1="206.6" y1="733.4" x2="245" y2="767.5" stroke="#2a2a2a" stroke-width="1" stroke-linecap="butt"/>
<path d="M247,735 A40.5,40.5 0 0 1 241.5,758.5" fill="none" stroke="#2a2a2a" stroke-width="1.1" stroke-linejoin="round" />
<polygon points="247.2,733.8 248.9,740.96 245.9,741.04" fill="#111"/>
<polygon points="240.6,759.5 242.9,752.55 245.5,754.05" fill="#111"/>
<text transform="translate(237.5 746.5) rotate(-64) matrix(0.12 0 -0.02 0.1 -9.74 3.4)" fill="#111">45°</text>
<circle cx="484.8" cy="663.9" r="19.3" fill="none" stroke="#111" stroke-width="1.5"/>
<text transform="matrix(0.11 0 -0.02 0.27 478.82 671.9)" fill="#111">A</text>
<clipPath id="aclip"><path d="M454.7,688.5 L590,688.5 L590,748 L609,762 L609,781 L454.7,781 Z M454.7,697.8 C496.4,705 496.4,766 454.7,772.9 Z M493.7,737.2 A34.7,34.7 0 1 0 563.1,737.2 A34.7,34.7 0 1 0 493.7,737.2 Z" clip-rule="evenodd"/></clipPath>
<g clip-path="url(#aclip)" stroke="#202020" stroke-width="1.3" stroke-dasharray="11 3.5 2.5 3.5"><line x1="450" y1="692.59" x2="612" y2="603.49"/><line x1="450" y1="705.09" x2="612" y2="615.99"/><line x1="450" y1="717.59" x2="612" y2="628.49"/><line x1="450" y1="730.09" x2="612" y2="640.99"/><line x1="450" y1="742.59" x2="612" y2="653.49"/><line x1="450" y1="755.09" x2="612" y2="665.99"/><line x1="450" y1="767.59" x2="612" y2="678.49"/><line x1="450" y1="780.09" x2="612" y2="690.99"/><line x1="450" y1="792.59" x2="612" y2="703.49"/><line x1="450" y1="805.09" x2="612" y2="715.99"/><line x1="450" y1="817.59" x2="612" y2="728.49"/><line x1="450" y1="830.09" x2="612" y2="740.99"/><line x1="450" y1="842.59" x2="612" y2="753.49"/><line x1="450" y1="855.09" x2="612" y2="765.99"/><line x1="450" y1="867.59" x2="612" y2="778.49"/><line x1="450" y1="880.09" x2="612" y2="790.99"/></g>
<line x1="401" y1="688.4" x2="454.7" y2="688.4" stroke="#2a2a2a" stroke-width="1" stroke-linecap="butt"/>
<line x1="454.7" y1="688.6" x2="598" y2="688.6" stroke="#111" stroke-width="2.3" stroke-linecap="butt"/>
<line x1="401" y1="780.6" x2="410" y2="780.6" stroke="#2a2a2a" stroke-width="1" stroke-linecap="butt"/>
<line x1="420" y1="780.6" x2="432" y2="780.6" stroke="#2a2a2a" stroke-width="1" stroke-linecap="butt"/>
<line x1="440" y1="780.6" x2="452" y2="780.6" stroke="#2a2a2a" stroke-width="1" stroke-linecap="butt"/>
<line x1="454.7" y1="780.6" x2="586" y2="780.6" stroke="#111" stroke-width="2.3" stroke-linecap="butt"/>
<line x1="398" y1="737" x2="640" y2="737" stroke="#2a2a2a" stroke-width="1" stroke-linecap="butt" stroke-dasharray="14 3 2 3"/>
<line x1="407.5" y1="682" x2="407.5" y2="786" stroke="#2a2a2a" stroke-width="1" stroke-linecap="butt"/>
<line x1="404.7" y1="691.2" x2="410.3" y2="685.6" stroke="#111" stroke-width="1.4"/>
<line x1="404.7" y1="739.8" x2="410.3" y2="734.2" stroke="#111" stroke-width="1.4"/>
<line x1="404.7" y1="783.4" x2="410.3" y2="777.8" stroke="#111" stroke-width="1.4"/>
<text transform="translate(400.7 709.4) rotate(-90) matrix(0.13 0 -0.02 0.14 -7.88 4.86)" fill="#111">80</text>
<text transform="translate(399.6 761) rotate(-90) matrix(0.13 0 -0.02 0.14 -7.98 4.86)" fill="#111">80</text>
<polyline points="454.7,680 454.7,727 457.5,725.5 453,735.5 455,734.5 454.7,791.5" fill="none" stroke="#111" stroke-width="1.7" stroke-linejoin="round"/>
<path d="M454.7,697.8 C496.4,705 496.4,766 454.7,772.9" fill="none" stroke="#111" stroke-width="2.3" stroke-linejoin="round" />
<circle cx="528.4" cy="737.2" r="34.7" fill="none" stroke="#111" stroke-width="2.3"/>
<line x1="528.6" y1="657" x2="528.4" y2="781" stroke="#2a2a2a" stroke-width="1.3" stroke-linecap="butt" stroke-dasharray="12 3 2 3"/>
<line x1="528.4" y1="737.2" x2="506" y2="715.8" stroke="#2a2a2a" stroke-width="1" stroke-linecap="butt"/>
<polygon points="504.2,714.2 510.68,718.08 508.32,720.52" fill="#111"/>
<text transform="translate(523 724.3) rotate(42) matrix(0.12 0 -0.02 0.12 -16.98 4.13)" fill="#111">d=114</text>
<line x1="528.4" y1="737.2" x2="551" y2="759.5" stroke="#2a2a2a" stroke-width="1" stroke-linecap="butt" stroke-dasharray="4 3"/>
<polygon points="552.6,761.2 546.2,757.2 548.6,754.8" fill="#111"/>
<line x1="522" y1="663.1" x2="615" y2="663.1" stroke="#2a2a2a" stroke-width="1" stroke-linecap="butt"/>
<line x1="525.9" y1="665.9" x2="531.5" y2="660.3" stroke="#111" stroke-width="1.4"/>
<line x1="560.9" y1="665.9" x2="566.5" y2="660.3" stroke="#111" stroke-width="1.4"/>
<line x1="587.2" y1="665.9" x2="592.8" y2="660.3" stroke="#111" stroke-width="1.4"/>
<line x1="595.2" y1="665.9" x2="600.8" y2="660.3" stroke="#111" stroke-width="1.4"/>
<line x1="606.2" y1="665.9" x2="611.8" y2="660.3" stroke="#111" stroke-width="1.4"/>
<line x1="563.7" y1="657" x2="563.7" y2="734" stroke="#111" stroke-width="1.8" stroke-linecap="butt"/>
<line x1="590" y1="657" x2="590" y2="750" stroke="#111" stroke-width="2" stroke-linecap="butt"/>
<line x1="598" y1="659" x2="598" y2="688.8" stroke="#111" stroke-width="1.8" stroke-linecap="butt"/>
<line x1="609" y1="659" x2="609" y2="763" stroke="#2a2a2a" stroke-width="1.2" stroke-linecap="butt"/>
<text transform="matrix(0.15 0 -0.03 0.16 535.63 660.44)" fill="#111">57</text>
<text transform="matrix(0.11 0 -0.03 0.15 566.2 659.78)" fill="#111">48,5</text>
<text transform="matrix(0.07 0 -0.02 0.14 590.62 660.46)" fill="#111">10</text>
<text transform="matrix(0.12 0 -0.02 0.13 600.02 659.87)" fill="#111">15</text>
<line x1="609" y1="688.3" x2="660" y2="688.3" stroke="#2a2a2a" stroke-width="1" stroke-linecap="butt"/>
<line x1="609" y1="712.3" x2="632.5" y2="712.3" stroke="#2a2a2a" stroke-width="1" stroke-linecap="butt" stroke-dasharray="3 2"/>
<line x1="609" y1="718.8" x2="633" y2="718.8" stroke="#111" stroke-width="2" stroke-linecap="butt"/>
<line x1="609" y1="749.7" x2="632.5" y2="749.7" stroke="#2a2a2a" stroke-width="1" stroke-linecap="butt" stroke-dasharray="3 2"/>
<line x1="591" y1="754.6" x2="615" y2="754.6" stroke="#2a2a2a" stroke-width="1.1" stroke-linecap="butt" stroke-dasharray="4 2"/>
<line x1="632.5" y1="678" x2="632.5" y2="754.5" stroke="#2a2a2a" stroke-width="1.2" stroke-linecap="butt"/>
<line x1="654.5" y1="681.4" x2="654.5" y2="774" stroke="#2a2a2a" stroke-width="1.2" stroke-linecap="butt"/>
<line x1="629.7" y1="691.1" x2="635.3" y2="685.5" stroke="#111" stroke-width="1.4"/>
<line x1="629.7" y1="715.1" x2="635.3" y2="709.5" stroke="#111" stroke-width="1.4"/>
<line x1="629.7" y1="721.6" x2="635.3" y2="716" stroke="#111" stroke-width="1.4"/>
<line x1="629.7" y1="752.5" x2="635.3" y2="746.9" stroke="#111" stroke-width="1.4"/>
<line x1="651.7" y1="691.1" x2="657.3" y2="685.5" stroke="#111" stroke-width="1.4"/>
<line x1="639" y1="780.6" x2="654.5" y2="780.6" stroke="#2a2a2a" stroke-width="1" stroke-linecap="butt" stroke-dasharray="3 2"/>
<line x1="651.7" y1="783.4" x2="657.3" y2="777.8" stroke="#111" stroke-width="1.4"/>
<line x1="599" y1="697" x2="607" y2="762.5" stroke="#111" stroke-width="1.9" stroke-linecap="butt" stroke-dasharray="8 3"/>
<line x1="607.8" y1="750" x2="608" y2="763" stroke="#111" stroke-width="2.4" stroke-linecap="butt"/>
<text transform="translate(626 700.5) rotate(-90) matrix(0.11 0 -0.02 0.1 -6.48 3.4)" fill="#111">10</text>
<text transform="translate(637.4 717) rotate(-90) matrix(0.09 0 -0.02 0.1 -5.68 3.4)" fill="#111">10</text>
<text transform="translate(625.8 734.3) rotate(-90) matrix(0.12 0 -0.02 0.11 -7.23 3.64)" fill="#111">80</text>
<text transform="translate(647.2 735.2) rotate(-90) matrix(0.11 0 -0.02 0.11 -6.88 3.64)" fill="#111">30</text>
<text transform="translate(640 755.4) rotate(-90) matrix(0.09 0 -0.02 0.1 -5.68 3.4)" fill="#111">10</text>
<text transform="translate(623.6 765) rotate(-90) matrix(0.11 0 -0.02 0.1 -6.48 3.4)" fill="#111">30</text>
<text transform="translate(624.4 785.4) rotate(-90) matrix(0.11 0 -0.02 0.1 -6.48 3.4)" fill="#111">10</text>
<text transform="translate(593 788.5) rotate(-30) matrix(0.06 0 -0.01 0.08 -3.86 2.67)" fill="#111">45</text>
<g style="mix-blend-mode:multiply">
<polygon points="220,335 280.19,369.75 265.47,378.25 220,352" fill="#fcdec7"/>
<polygon points="280.19,369.75 280.19,439.25 265.47,430.75 265.47,378.25" fill="#fcdec7"/>
<polygon points="280.19,439.25 220,474 220,457 265.47,430.75" fill="#fcdec7"/>
<polygon points="220,474 159.81,439.25 174.53,430.75 220,457" fill="#fcdec7"/>
<polygon points="159.81,439.25 159.81,369.75 174.53,378.25 174.53,430.75" fill="#fcdec7"/>
<polygon points="159.81,369.75 220,335 220,352 174.53,378.25" fill="#fcdec7"/>
<polygon points="160,391 219,423 280,386 280,418 219,442 160,421" fill="#e9e9e9"/>
<polygon points="210,366 257,393 257,407 204.5,377" fill="#e9e9e9"/>
<path d="M292,374 H361.5 V385.5 H311 V399 H356 V410 H311 V427 H361.5 V439 H292 Z" fill="#e9e9e9"/>
<path d="M373,374 H445 V385.5 H419 V439 H399 V385.5 H373 Z" fill="#e9e9e9"/>
<path d="M480,374 H523 A21,21 0 0 1 544,395 V417 A21,21 0 0 1 523,438 H480 A21,21 0 0 1 459,417 V395 A21,21 0 0 1 480,374 Z M492,391 A8,8 0 0 0 484,399 V411 A8,8 0 0 0 492,419 H514 A8,8 0 0 0 522,411 V399 A8,8 0 0 0 514,391 Z" fill="#e9e9e9" fill-rule="evenodd"/>
<path d="M553,374 H575 L618,424 V374 H638 V440 H603 L573,392 V440 H553 Z" fill="#e9e9e9"/>
<path d="M491,325 H504 A6,6 0 0 1 510,331 V352 A6,6 0 0 1 504,358 H491 V351 H502 V344 H492 V338 H502 V332 H491 Z" fill="#fcdec7"/>
<path d="M520,325 H545 A6,6 0 0 1 551,331 V358 H520 A6,6 0 0 1 514,352 V345 A6,6 0 0 1 520,339 H541 V333 H514 V331 A6,6 0 0 1 520,325 Z M524,346 V351 H541 V346 Z" fill="#fcdec7" fill-rule="evenodd"/>
<path d="M561,325 H576 A6,6 0 0 1 582,331 V344 H565 V351 H582 V358 H561 A6,6 0 0 1 555,352 V331 A6,6 0 0 1 561,325 Z M565,332 V337 H572 V332 Z" fill="#fcdec7" fill-rule="evenodd"/>
<path d="M606,325 H635 A6,6 0 0 1 641,331 V358 H606 A6,6 0 0 1 600,352 V345 A6,6 0 0 1 606,339 H631 V333 H600 V331 A6,6 0 0 1 606,325 Z M610,346 V351 H631 V346 Z" fill="#fcdec7" fill-rule="evenodd"/>
</g>
</svg>
</body></html>
